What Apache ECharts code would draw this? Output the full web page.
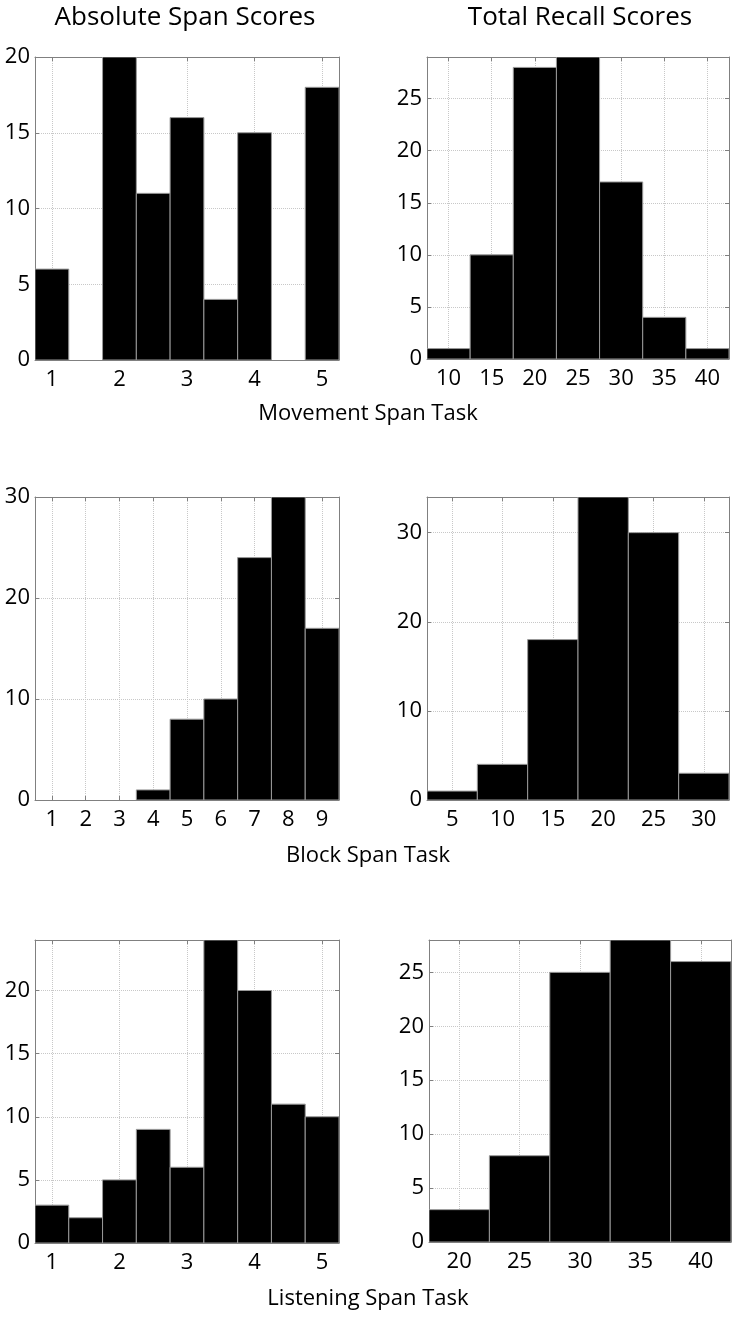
<!DOCTYPE html>
<html style="height: 100%">

<head>
    <meta charset="utf-8">
    <script src="https://cdn.jsdelivr.net/npm/echarts@6/dist/echarts.min.js"></script>
</head>

<body style="height: 100%; margin: 0; background: #fff">
    <div id="main" style="width: 738px;height:1318px;"></div>
    <script type="text/javascript">
        // bin centres (x) and counts
        var absHalfBins = [1, 1.5, 2, 2.5, 3, 3.5, 4, 4.5, 5];
        var blockAbsBins = [1, 2, 3, 4, 5, 6, 7, 8, 9];
        var moveRecallBins = [10, 15, 20, 25, 30, 35, 40];
        var blockRecallBins = [5, 10, 15, 20, 25, 30];
        var listenRecallBins = [20, 25, 30, 35, 40];

        var moveAbs = [6, 0, 20, 11, 16, 4, 15, 0, 18];
        var moveRecall = [1, 10, 28, 29, 17, 4, 1];
        var blockAbs = [0, 0, 0, 1, 8, 10, 24, 30, 17];
        var blockRecall = [1, 4, 18, 34, 30, 3];
        var listenAbs = [3, 2, 5, 9, 6, 24, 20, 11, 10];
        var listenRecall = [3, 8, 25, 28, 26];

        // tick labels
        var absTicks = [1, 2, 3, 4, 5];
        var blockAbsTicks = [1, 2, 3, 4, 5, 6, 7, 8, 9];
        var moveRecallTicks = [10, 15, 20, 25, 30, 35, 40];
        var blockRecallTicks = [5, 10, 15, 20, 25, 30];
        var listenRecallTicks = [20, 25, 30, 35, 40];
        var yTicks5 = [0, 5, 10, 15, 20, 25];
        var yTicks10 = [0, 10, 20, 30];

        var font = 'Open Sans';
        var frame = '#808080';

        var panels = [
            { bins: absHalfBins, counts: moveAbs, w: 0.5, xmin: 0.75, xmax: 5.25, xt: absTicks, ymax: 20, yt: yTicks5,
              grid: { left: 35, top: 57, width: 304, height: 303 } },
            { bins: moveRecallBins, counts: moveRecall, w: 5, xmin: 7.5, xmax: 42.5, xt: moveRecallTicks, ymax: 29, yt: yTicks5,
              grid: { left: 427, top: 57, width: 302, height: 302 } },
            { bins: blockAbsBins, counts: blockAbs, w: 1, xmin: 0.5, xmax: 9.5, xt: blockAbsTicks, ymax: 30, yt: yTicks10,
              grid: { left: 35, top: 497, width: 304, height: 303 } },
            { bins: blockRecallBins, counts: blockRecall, w: 5, xmin: 2.5, xmax: 32.5, xt: blockRecallTicks, ymax: 34, yt: yTicks10,
              grid: { left: 427, top: 497, width: 302, height: 303 } },
            { bins: absHalfBins, counts: listenAbs, w: 0.5, xmin: 0.75, xmax: 5.25, xt: absTicks, ymax: 24, yt: yTicks5,
              grid: { left: 35, top: 940, width: 304, height: 303 } },
            { bins: listenRecallBins, counts: listenRecall, w: 5, xmin: 17.5, xmax: 42.5, xt: listenRecallTicks, ymax: 28, yt: yTicks5,
              grid: { left: 429, top: 940, width: 302, height: 302 } }
        ];

        function histItem(binWidth) {
            return function (params, api) {
                var c = api.value(0), n = api.value(1);
                if (!n) return null;
                var p0 = api.coord([c - binWidth / 2, n]);
                var p1 = api.coord([c + binWidth / 2, 0]);
                return {
                    type: 'rect',
                    shape: { x: p0[0], y: p0[1], width: p1[0] - p0[0], height: p1[1] - p0[1] },
                    style: { fill: '#000', stroke: '#999', lineWidth: 1 }
                };
            };
        }

        var grids = [], xAxes = [], yAxes = [], series = [];
        panels.forEach(function (p, i) {
            var yt = p.yt.filter(function (v) { return v <= p.ymax; });
            grids.push(p.grid);
            // bottom axis with labels + grid lines, top axis only for ticks
            xAxes.push({
                type: 'value', gridIndex: i, min: p.xmin, max: p.xmax, position: 'bottom',
                axisLine: { show: true, onZero: false, lineStyle: { color: frame } },
                axisTick: { inside: true, length: 4, customValues: p.xt, lineStyle: { color: frame } },
                axisLabel: { customValues: p.xt, fontFamily: font, fontSize: 22, color: '#000', margin: 9 },
                splitLine: { show: true, lineStyle: { color: '#c8c8c8', type: 'dotted' } }
            });
            xAxes.push({
                type: 'value', gridIndex: i, min: p.xmin, max: p.xmax, position: 'top',
                axisLine: { show: true, onZero: false, lineStyle: { color: frame } },
                axisTick: { inside: true, length: 4, customValues: p.xt, lineStyle: { color: frame } },
                axisLabel: { show: false },
                splitLine: { show: false }
            });
            yAxes.push({
                type: 'value', gridIndex: i, min: 0, max: p.ymax, position: 'left',
                axisLine: { show: true, lineStyle: { color: frame } },
                axisTick: { show: true, inside: true, length: 4, customValues: yt, lineStyle: { color: frame } },
                axisLabel: { customValues: yt, fontFamily: font, fontSize: 22, color: '#000', margin: 5 },
                splitLine: { show: true, lineStyle: { color: '#c8c8c8', type: 'dotted' } }
            });
            yAxes.push({
                type: 'value', gridIndex: i, min: 0, max: p.ymax, position: 'right',
                axisLine: { show: true, lineStyle: { color: frame } },
                axisTick: { show: true, inside: true, length: 4, customValues: yt, lineStyle: { color: frame } },
                axisLabel: { show: false },
                splitLine: { show: false }
            });
            series.push({
                type: 'custom',
                xAxisIndex: i * 2,
                yAxisIndex: i * 2,
                renderItem: histItem(p.w),
                clip: true,
                z: 1,
                data: p.bins.map(function (b, k) { return [b, p.counts[k]]; })
            });
        });

        function label(text, x, y, size) {
            return {
                text: text, left: x, top: y, textAlign: 'center', padding: 0,
                textStyle: { fontFamily: font, fontSize: size, fontWeight: 'normal', color: '#000' }
            };
        }

        var myChart = echarts.init(document.getElementById('main'));
        myChart.setOption({
            animation: false,
            title: [
                label('Absolute Span Scores', 185, 5, 26),
                label('Total Recall Scores', 580, 5, 26),
                label('Movement Span Task', 368, 403, 22),
                label('Block Span Task', 368, 845, 22),
                label('Listening Span Task', 368, 1288, 22)
            ],
            grid: grids,
            xAxis: xAxes,
            yAxis: yAxes,
            series: series
        });
    </script>
</body>

</html>
